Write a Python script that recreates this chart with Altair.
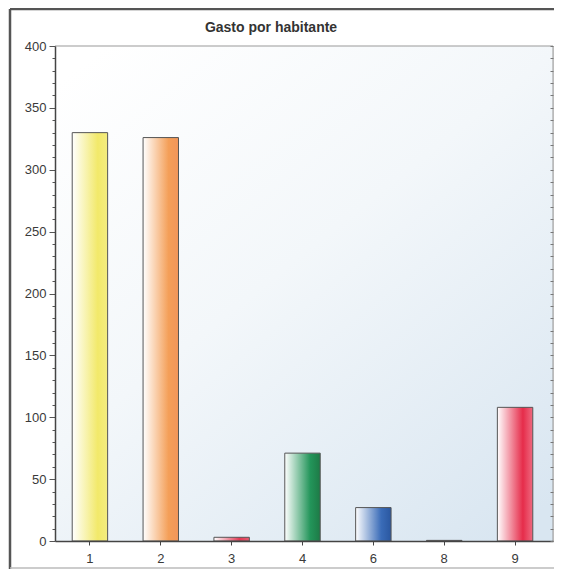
import altair as alt
import pandas as pd

# ---- data ----
cats = ["1", "2", "3", "4", "6", "8", "9"]
vals = [330, 326, 3, 71, 27, 0.5, 108]
main_colors = ["#f2e96a", "#f49f58", "#e03a55", "#23955a", "#3a6cb8", "#8a72b8", "#e62c4a"]
edge_colors = ["#f4ec80", "#f2955a", "#e85a70", "#1d7a46", "#2a57a0", "#7a62a8", "#ee6a80"]
y_ticks = list(range(0, 401, 10))
title_text = ["Gasto por habitante"]

W, H = 498, 495
FONT = "Liberation Sans"

df = pd.DataFrame({"cat": cats, "v": vals})
one = pd.DataFrame({"k": [0]})
title_df = pd.DataFrame({"t": title_text})

x_enc = alt.X(
    "cat:N",
    scale=alt.Scale(domain=cats, paddingInner=0.5, paddingOuter=0.264, align=0.46),
    axis=alt.Axis(
        title=None, labelAngle=0, tickSize=4, labelPadding=7, labelFontSize=13,
        labelColor="#3a3a3a", labelFont=FONT, domainColor="#444", domainWidth=1.5,
        tickColor="#444", zindex=1,
    ),
)
y_scale = alt.Scale(domain=[0, 400], nice=False, zero=True)

y_axis_main = alt.Axis(
    title=None, grid=False, values=y_ticks,
    labelExpr="datum.value % 50 === 0 ? datum.label : ''",
    tickSize={"condition": {"test": "datum.value % 50 === 0", "value": 6}, "value": 3},
    labelPadding=3, labelFontSize=13, labelColor="#3a3a3a", labelFont=FONT,
    domainColor="#444", domainWidth=1.5, tickColor="#555", zindex=1,
)

bg_grad = alt.Gradient(
    gradient="linear",
    stops=[
        alt.GradientStop(color="#ffffff", offset=0),
        alt.GradientStop(color="#f3f7fa", offset=0.45),
        alt.GradientStop(color="#d9e6f1", offset=1),
    ],
    x1=0.1, y1=0, x2=0.9, y2=1,
)

background = alt.Chart(one).mark_rect(fill=bg_grad).encode(
    x=alt.value(0), x2=alt.value(W), y=alt.value(0), y2=alt.value(H)
)

layers = [background]
for i, c in enumerate(cats):
    grad = alt.Gradient(
        gradient="linear",
        stops=[
            alt.GradientStop(color="#ffffff", offset=0),
            alt.GradientStop(color=main_colors[i], offset=0.72),
            alt.GradientStop(color=edge_colors[i], offset=1),
        ],
        x1=0, y1=0, x2=1, y2=0,
    )
    layers.append(
        alt.Chart(df)
        .transform_filter(alt.datum.cat == c)
        .mark_bar(fill=grad, stroke="#555", strokeWidth=1)
        .encode(
            x=x_enc,
            y=alt.Y("v:Q", scale=y_scale, axis=y_axis_main if i == 0 else None),
        )
    )

right_ticks = alt.Chart(df).mark_point(opacity=0).encode(
    y=alt.Y(
        "v:Q", scale=y_scale,
        axis=alt.Axis(orient="left", offset=-W, values=y_ticks, labels=False,
                      domain=False, tickSize=3, tickColor="#777", grid=False,
                      title=None, zindex=1),
    )
)

top_line = alt.Chart(one).mark_rule(color="#999", strokeWidth=1).encode(
    x=alt.value(0), x2=alt.value(W), y=alt.value(0)
)
right_line = alt.Chart(one).mark_rule(color="#999", strokeWidth=1).encode(
    x=alt.value(W), y=alt.value(0), y2=alt.value(H)
)
frame_left = alt.Chart(one).mark_rule(color="#555", strokeWidth=2.5).encode(
    x=alt.value(-45), y=alt.value(-37), y2=alt.value(H + 28)
)
frame_top = alt.Chart(one).mark_rule(color="#555", strokeWidth=2.5).encode(
    x=alt.value(-45), x2=alt.value(W + 2), y=alt.value(-37)
)
frame_bottom = alt.Chart(one).mark_rule(color="#bbb", strokeWidth=1.5).encode(
    x=alt.value(-45), x2=alt.value(W + 2), y=alt.value(H + 27)
)
title = alt.Chart(title_df).mark_text(
    font=FONT, fontSize=14, fontWeight="bold", color="#333", align="center",
    baseline="alphabetic",
).encode(x=alt.value(216), y=alt.value(-14), text="t:N")

chart = (
    alt.layer(*layers, right_ticks, top_line, right_line, frame_left, frame_top,
              frame_bottom, title)
    .resolve_axis(y="independent")
    .properties(
        width=W, height=H,
        padding={"left": 47, "top": 38, "right": 1, "bottom": 29},
        autosize=alt.AutoSizeParams(type="none"),
    )
    .configure_view(stroke=None)
    .configure(background="#ffffff")
)

chart.save("out.html", embed_options={"renderer": "svg", "actions": False})
